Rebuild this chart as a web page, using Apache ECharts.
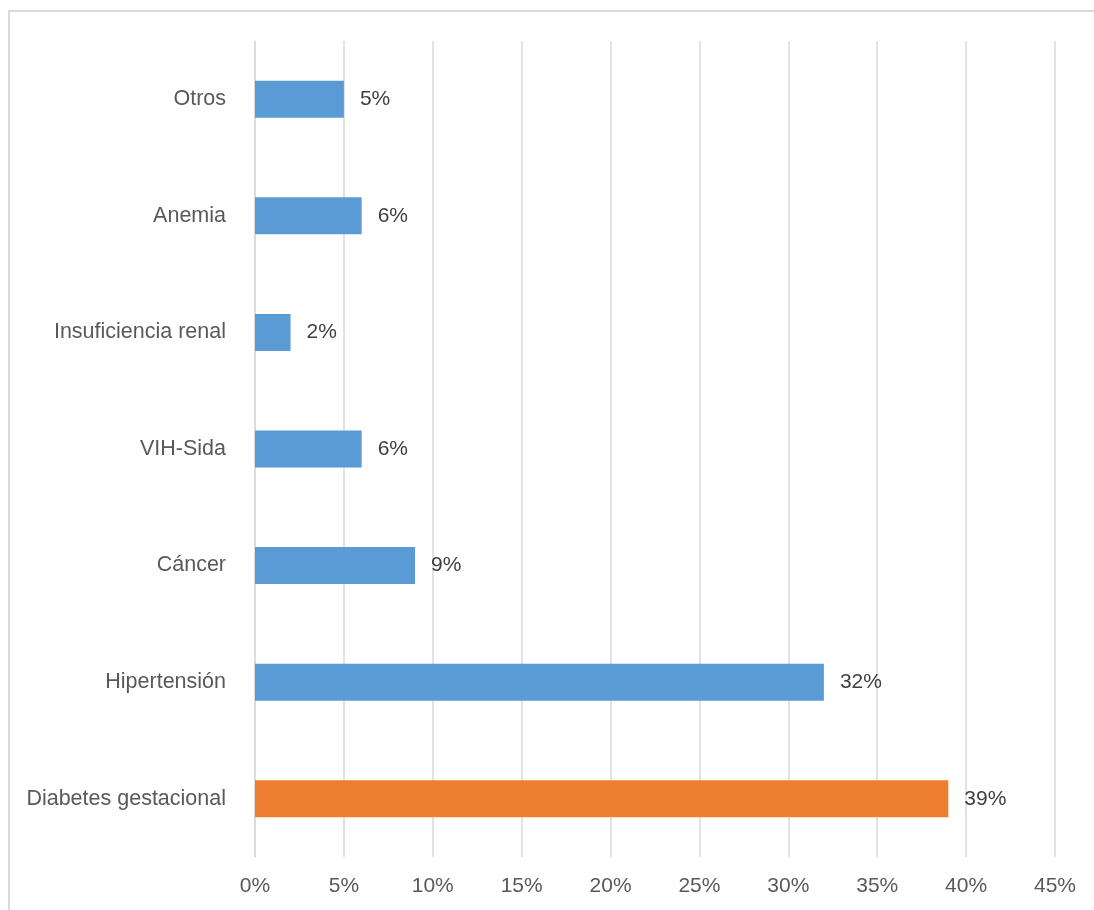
<!DOCTYPE html>
<html><head><meta charset="utf-8">
<script src="https://cdn.jsdelivr.net/npm/echarts@6/dist/echarts.min.js"></script>
<style>
html,body{margin:0;padding:0;background:#fff;}
#frame{position:absolute;left:8px;top:10px;width:1200px;height:1000px;border:2px solid #d9d9d9;box-sizing:border-box;}
#c{position:absolute;left:0;top:0;width:1094px;height:910px;}
</style></head>
<body>
<div id="frame"></div>
<div id="c"></div>
<script>
const categories = ['Diabetes gestacional','Hipertensión','Cáncer','VIH-Sida','Insuficiencia renal','Anemia','Otros'];
const values = [39, 32, 9, 6, 2, 6, 5];
const highlightCategory = 'Diabetes gestacional';
const xTicks = [0,5,10,15,20,25,30,35,40,45];

const font = '"Liberation Sans", Arial, sans-serif';
const chart = echarts.init(document.getElementById('c'));
chart.setOption({
  animation:false,
  grid:{left:255,right:39,top:41,bottom:53,containLabel:false},
  xAxis:{type:'value',min:xTicks[0],max:xTicks[xTicks.length-1],interval:xTicks[1]-xTicks[0],
    axisLine:{show:false},axisTick:{show:false},
    splitLine:{lineStyle:{color:'#d9d9d9',width:1.5}},
    axisLabel:{formatter:v=>v+'%',color:'#595959',fontSize:21,fontFamily:font,margin:19}},
  yAxis:{type:'category',data:categories,
    axisLine:{show:true,lineStyle:{color:'#d9d9d9',width:1.5}},axisTick:{show:false},
    axisLabel:{color:'#595959',fontSize:21.5,fontFamily:font,margin:29}},
  series:[{type:'bar',barWidth:37,
    data:values.map((v,i)=>({value:v,itemStyle:{color:categories[i]===highlightCategory?'#ED7D31':'#5B9BD5'}})),
    label:{show:true,position:'right',distance:16,formatter:p=>p.value+'%',color:'#404040',fontSize:21,fontFamily:font}}]
});
</script>
</body></html>
